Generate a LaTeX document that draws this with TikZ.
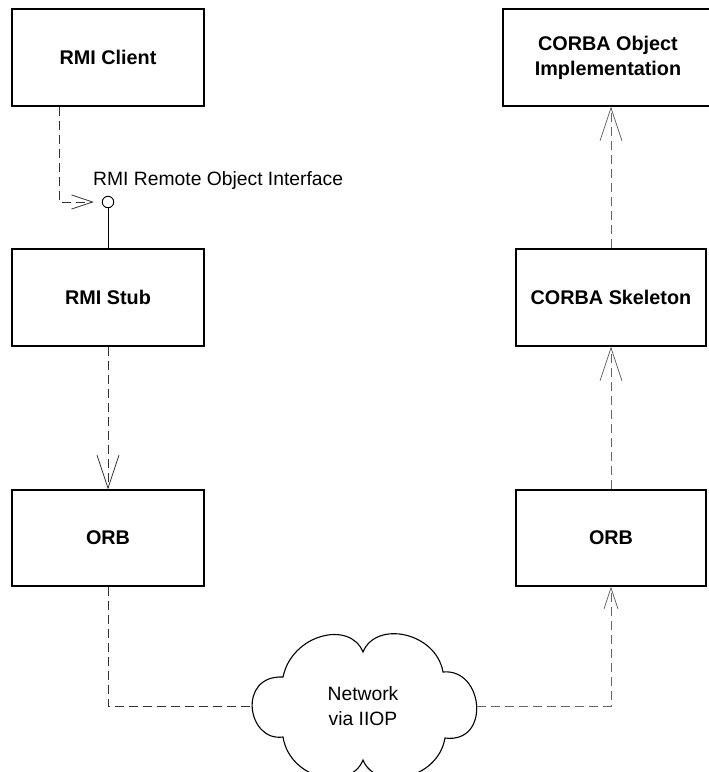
\documentclass[tikz,border=0pt]{standalone}
\usepackage{fontspec}
\setmainfont{Liberation Sans}
\usetikzlibrary{arrows.meta}
\tikzset{
  box/.style={draw, line width=1.1pt, inner sep=0pt, align=center,
    minimum width=192pt, minimum height=97pt,
    font=\fontsize{19.8}{25}\selectfont\bfseries},
  plain/.style={inner sep=0pt, align=center, font=\fontsize{19.3}{25}\selectfont},
  depL/.style={draw=black!80, line width=0.9pt, dash pattern=on 9pt off 5pt},
  depR/.style={draw=black!60, line width=0.9pt, dash pattern=on 9pt off 5pt},
  bigtip/.style={-{Straight Barb[length=33pt,width=22pt,line width=0.8pt]}},
  smalltip/.style={-{Straight Barb[length=21pt,width=14pt,line width=0.8pt]}},
  cloudline/.style={draw=black, line width=1.1pt, line join=miter}
}
\begin{document}
\begin{tikzpicture}[x=1pt,y=-1pt]
\useasboundingbox (0,0) rectangle (709,772);
% boxes
\node[box] (client) at (108,57.5) {RMI Client};
\node[box] (stub) at (108,297.5) {RMI Stub};
\node[box, minimum height=96pt] (orbL) at (108,538) {ORB};
\node[box, minimum width=210pt] (impl) at (608,57.5) {CORBA Object\\Implementation};
\node[box, minimum width=190pt] (skel) at (611,297.5) {CORBA Skeleton};
\node[box, minimum width=190pt, minimum height=96pt] (orbR) at (611,538) {ORB};
% interface lollipop
\node[draw, circle, line width=0.9pt, minimum size=11.5pt, inner sep=0pt] (iface) at (108,202) {};
\node[plain, anchor=base west] (ifacelabel) at (93,185) {RMI Remote Object Interface};
% cloud
\draw[cloudline] (283,737)
  .. controls (247,742) and (237,675) .. (283,677)
  .. controls (292,634) and (350,620) .. (363,652)
  .. controls (376,620) and (436,632) .. (443,672)
  .. controls (484,668) and (491,744) .. (445,738)
  .. controls (438,780) and (376,792) .. (363,760)
  .. controls (350,792) and (290,780) .. cycle;
\node[plain] (net) at (363,706) {Network\\via IIOP};
\coordinate (netW) at (251,706);
\coordinate (netE) at (477,706);
% connectors
\draw[depL, smalltip, shorten >=8pt] ([xshift=-49pt]client.south) |- (iface.west);
\draw[line width=0.9pt] (iface.south) -- (stub.north);
\draw[depL, bigtip] (stub.south) -- (orbL.north);
\draw[depL] (orbL.south) |- (netW);
\draw[depR, smalltip] (netE) -| (orbR.south);
\draw[depR, bigtip] (orbR.north) -- (skel.south);
\draw[depR, bigtip] (skel.north) -- (skel.north |- impl.south);
\end{tikzpicture}
\end{document}
